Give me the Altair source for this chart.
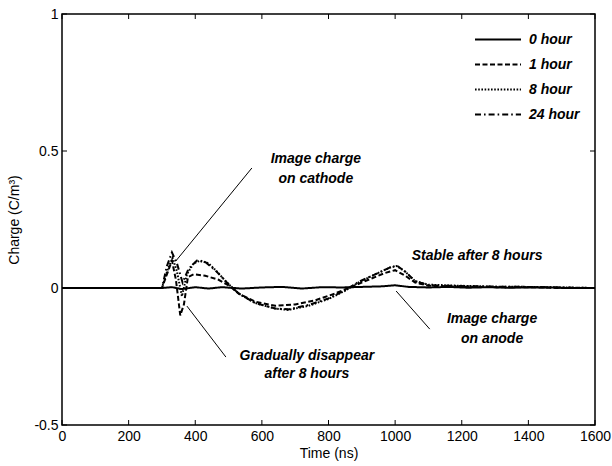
import altair as alt
import pandas as pd

# ---- series: charge density (C/m^3) vs time (ns) ----
hours = ["0 hour", "1 hour", "8 hour", "24 hour"]

t_0h = [0, 300, 330, 360, 400, 440, 480, 540, 600, 660, 720, 780, 840, 900, 960,
        1000, 1040, 1100, 1160, 1220, 1280, 1340, 1400, 1460, 1520, 1600]
q_0h = [0, 0, 0.003, -0.004, 0.003, -0.002, 0.003, -0.002, 0.002, 0.004, -0.002,
        0.003, 0.002, 0.004, 0.006, 0.01, 0.004, 0.002, 0.004, 0.001, 0.003, 0.001,
        0.002, 0.002, 0.0, 0.0]

t_1h = [0, 300, 318, 330, 342, 355, 366, 378, 395, 430, 470, 500, 530, 580, 640,
        700, 760, 820, 870, 920, 970, 1000, 1030, 1060, 1100, 1200, 1300, 1400, 1500, 1600]
q_1h = [0, 0, 0.06, 0.1, 0.03, -0.1, -0.06, 0.04, 0.05, 0.045, 0.03, 0.01, -0.02,
        -0.05, -0.065, -0.06, -0.045, -0.02, 0.005, 0.03, 0.055, 0.065, 0.045, 0.02,
        0.008, 0.005, 0.003, 0.003, 0.0, 0.0]

t_8h = [0, 300, 318, 332, 345, 360, 375, 395, 415, 440, 465, 495, 530, 580, 640,
        680, 740, 800, 850, 890, 940, 985, 1005, 1030, 1060, 1100, 1200, 1300, 1400, 1500, 1600]
q_8h = [0, 0, 0.07, 0.11, 0.06, -0.03, 0.05, 0.09, 0.1, 0.09, 0.06, 0.02, -0.02,
        -0.055, -0.075, -0.08, -0.065, -0.04, -0.01, 0.02, 0.05, 0.075, 0.08, 0.06,
        0.025, 0.012, 0.008, 0.005, 0.004, 0.002, 0.0]

t_24h = [0, 300, 315, 330, 345, 362, 380, 405, 430, 460, 495, 530, 580, 640, 680,
         740, 800, 850, 890, 940, 985, 1005, 1030, 1060, 1100, 1200, 1300, 1400, 1500, 1600]
q_24h = [0, 0, 0.08, 0.13, 0.09, 0.02, 0.07, 0.1, 0.095, 0.065, 0.02, -0.02, -0.055,
         -0.075, -0.078, -0.062, -0.038, -0.008, 0.022, 0.05, 0.075, 0.082, 0.06,
         0.025, 0.01, 0.007, 0.005, 0.004, 0.002, 0.0]

x_ticks = [0, 200, 400, 600, 800, 1000, 1200, 1400, 1600]
y_ticks = [-0.5, 0, 0.5, 1]

# annotation texts (data coordinates) and leader lines
note_x = [762, 762, 1246, 1291, 1291, 735, 735]
note_y = [0.471, 0.398, 0.117, -0.113, -0.186, -0.248, -0.314]
note_text = ["Image charge", "on cathode", "Stable after 8 hours", "Image charge",
             "on anode", "Gradually disappear", "after 8 hours"]

lead_x = [570, 1104, 492]
lead_y = [0.438, -0.150, -0.252]
lead_x2 = [342, 1003, 375]
lead_y2 = [0.099, -0.011, -0.066]

# ---- tables ----
rows = []
for name, ts, qs in zip(hours, [t_0h, t_1h, t_8h, t_24h], [q_0h, q_1h, q_8h, q_24h]):
    for t, q in zip(ts, qs):
        rows.append({"series": name, "t": t, "q": q})
lines_df = pd.DataFrame(rows)
notes_df = pd.DataFrame({"x": note_x, "y": note_y, "text": note_text})
leads_df = pd.DataFrame({"x": lead_x, "y": lead_y, "x2": lead_x2, "y2": lead_y2})
xt_df = pd.DataFrame({"v": x_ticks})
yt_df = pd.DataFrame({"v": y_ticks})

W, H = 533, 411
FONT = "Liberation Sans"

xs = alt.Scale(domain=[0, 1600], nice=False, zero=False)
ys = alt.Scale(domain=[-0.5, 1], nice=False, zero=False)

x_axis = alt.Axis(values=x_ticks, tickSize=0, labelPadding=4, grid=False,
                  domain=False, labelFontSize=14, titleFontSize=14,
                  labelFont=FONT, titleFont=FONT, labelColor="black",
                  titleColor="black", titleFontWeight="normal",
                  titlePadding=3, labelFlush=False,
                  labelExpr="'' + datum.value")
y_axis = alt.Axis(values=y_ticks, tickSize=0, labelPadding=4, grid=False,
                  domain=False, labelFontSize=14, titleFontSize=14,
                  labelFont=FONT, titleFont=FONT, labelColor="black",
                  titleColor="black", titleFontWeight="normal",
                  titlePadding=12, labelExpr="'' + datum.value",
                  labelFlush=False)


def X(field):
    return alt.X(field, scale=xs, axis=x_axis, title="Time (ns)")


def Y(field):
    return alt.Y(field, scale=ys, axis=y_axis, title="Charge (C/m³)")


lines = alt.Chart(lines_df).mark_line(strokeWidth=2, color="black").encode(
    x=X("t:Q"),
    y=Y("q:Q"),
    strokeDash=alt.StrokeDash(
        "series:N",
        scale=alt.Scale(domain=hours,
                        range=[[1, 0], [5, 2.5], [1.6, 1.6], [6, 3, 1.6, 3]]),
        legend=alt.Legend(orient="none", legendX=412, legendY=13, title=None,
                          symbolType="stroke", symbolSize=2116,
                          symbolStrokeWidth=2, symbolStrokeColor="black",
                          labelFont=FONT, labelFontSize=14, labelFontStyle="italic",
                          labelFontWeight="bold", labelColor="black",
                          labelOffset=7, rowPadding=0, clipHeight=25),
    ),
    detail="series:N",
)

notes = alt.Chart(notes_df).mark_text(
    font=FONT, fontSize=14, fontStyle="italic", fontWeight="bold", color="black",
    align="center", baseline="middle",
).encode(
    x=X("x:Q"),
    y=Y("y:Q"),
    text="text:N",
)

leads = alt.Chart(leads_df).mark_rule(color="black", strokeWidth=1).encode(
    x=X("x:Q"),
    y=Y("y:Q"),
    x2="x2:Q",
    y2="y2:Q",
)

# inward tick marks on all four sides
tick_len = 5
bottom_ticks = alt.Chart(xt_df).mark_rule(color="black", strokeWidth=1).encode(
    x=X("v:Q"), y=alt.value(H), y2=alt.value(H - tick_len))
top_ticks = alt.Chart(xt_df).mark_rule(color="black", strokeWidth=1).encode(
    x=X("v:Q"), y=alt.value(0), y2=alt.value(tick_len))
left_ticks = alt.Chart(yt_df).mark_rule(color="black", strokeWidth=1).encode(
    y=Y("v:Q"), x=alt.value(0), x2=alt.value(tick_len))
right_ticks = alt.Chart(yt_df).mark_rule(color="black", strokeWidth=1).encode(
    y=Y("v:Q"), x=alt.value(W), x2=alt.value(W - tick_len))

chart = alt.layer(
    lines, leads, notes, bottom_ticks, top_ticks, left_ticks, right_ticks
).properties(
    width=W, height=H,
    autosize=alt.AutoSizeParams(type="none"),
    padding={"left": 62, "top": 14, "right": 17, "bottom": 41},
    background="white",
).configure_view(
    stroke="black", strokeWidth=1.5,
)

chart.save("out.html", embed_options={"renderer": "svg", "actions": False})
